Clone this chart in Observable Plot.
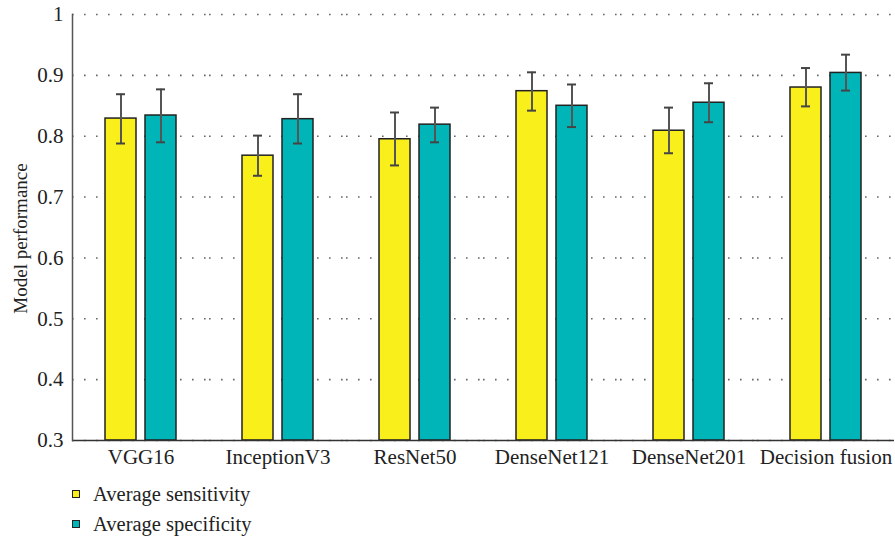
<!DOCTYPE html>
<html>
<head>
<meta charset="utf-8">
<script src="https://cdn.jsdelivr.net/npm/d3@7"></script>
<script src="https://cdn.jsdelivr.net/npm/@observablehq/plot@0.6"></script>
<style>
  body { margin: 0; background: #fff; font-family: "Liberation Serif", "DejaVu Serif", serif; }
  #chart svg { display: block; }
  .legend { margin-left: 72px; margin-top: 1px; font-size: 20.5px; color: #222; }
  .legend .row { display: flex; align-items: center; height: 30px; }
  .legend .sw { width: 8px; height: 8px; border: 1.2px solid #222; margin-right: 13px; box-sizing: border-box; flex: none; }
</style>
</head>
<body>
<div id="chart"></div>
<div class="legend" id="legend"></div>
<script>
const models = ["VGG16", "InceptionV3", "ResNet50", "DenseNet121", "DenseNet201", "Decision fusion"];
const seriesNames = ["Average sensitivity", "Average specificity"];
const seriesColors = ["#F9EF1A", "#00B5B8"];
const sensitivity = [0.829, 0.768, 0.795, 0.874, 0.809, 0.880];
const sensLo      = [0.788, 0.735, 0.752, 0.842, 0.772, 0.849];
const sensHi      = [0.869, 0.801, 0.839, 0.905, 0.847, 0.912];
const specificity = [0.834, 0.828, 0.819, 0.850, 0.855, 0.904];
const specLo      = [0.790, 0.788, 0.790, 0.815, 0.823, 0.875];
const specHi      = [0.877, 0.869, 0.847, 0.885, 0.887, 0.934];
const yTicks = [0.3, 0.4, 0.5, 0.6, 0.7, 0.8, 0.9, 1];
const yMin = 0.3, yMax = 1;
const yLabel = "Model performance";

const data = [];
models.forEach((m, i) => {
  data.push({model: m, series: seriesNames[0], value: sensitivity[i], lo: sensLo[i], hi: sensHi[i]});
  data.push({model: m, series: seriesNames[1], value: specificity[i], lo: specLo[i], hi: specHi[i]});
});

const chart = Plot.plot({
  width: 895,
  height: 478,
  marginTop: 14,
  marginBottom: 38,
  marginLeft: 72,
  marginRight: 1,
  style: {fontFamily: "'Liberation Serif', 'DejaVu Serif', serif", fontSize: "21px", color: "#222", background: "#fff"},
  fx: {domain: models, padding: 0, label: null},
  x: {domain: seriesNames, paddingInner: 0.225, paddingOuter: 0.825, axis: null},
  y: {domain: [yMin, yMax], ticks: yTicks, label: null},
  color: {domain: seriesNames, range: seriesColors},
  marks: [
    Plot.gridY(yTicks, {stroke: "#666", strokeOpacity: 1, strokeWidth: 1.6, strokeDasharray: "1.6,10.4"}),
    Plot.barY(data, {fx: "model", x: "series", y1: () => yMin, y2: "value", fill: "series", stroke: "#222", strokeWidth: 1.5}),
    Plot.ruleX(data, {fx: "model", x: "series", y1: "lo", y2: "hi", stroke: "#555", strokeWidth: 2}),
    Plot.tickY(data, {fx: "model", x: "series", y: "hi", stroke: "#444", strokeWidth: 2, insetLeft: 11, insetRight: 11}),
    Plot.tickY(data, {fx: "model", x: "series", y: "lo", stroke: "#444", strokeWidth: 2, insetLeft: 11, insetRight: 11}),
    Plot.ruleY([yMin], {stroke: "#333", strokeWidth: 1.5}),
    Plot.axisFx({anchor: "bottom", tickSize: 0, tickPadding: 9, fontSize: 21, label: null}),
    Plot.axisY({ticks: yTicks, tickSize: 0, tickPadding: 9, fontSize: 21, tickFormat: d => d === 1 ? "1" : d3.format(".1f")(d), label: null, facetAnchor: "left"}),
    Plot.frame({anchor: "left", stroke: "#555", strokeWidth: 1.5, facetAnchor: "left"}),
    Plot.text([yLabel], {fx: () => models[0], text: d => d, frameAnchor: "left", textAnchor: "middle", rotate: -90, dx: -52, dy: 11, fontSize: 19, fill: "#222"})
  ]
});
document.getElementById("chart").appendChild(chart);

const legend = document.getElementById("legend");
seriesNames.forEach((s, i) => {
  const row = document.createElement("div");
  row.className = "row";
  const sw = document.createElement("span");
  sw.className = "sw";
  sw.style.background = seriesColors[i];
  const t = document.createElement("span");
  t.textContent = s;
  row.appendChild(sw);
  row.appendChild(t);
  legend.appendChild(row);
});
</script>
</body>
</html>
